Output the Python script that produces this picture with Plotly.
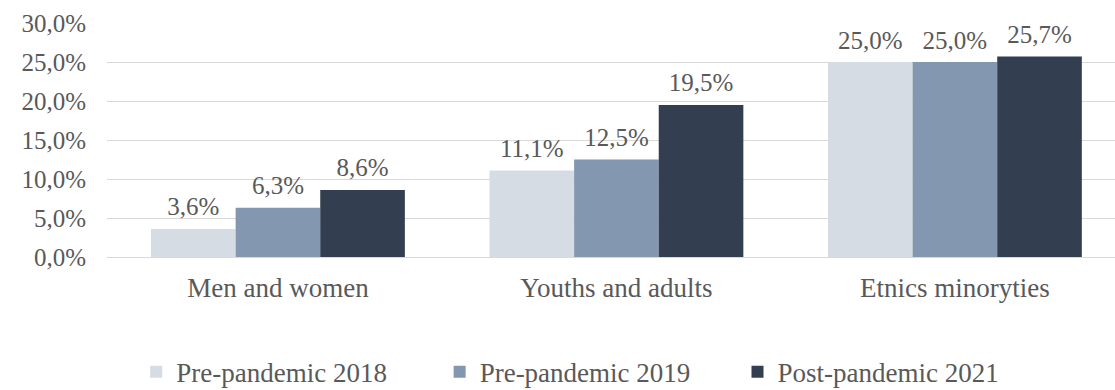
import plotly.graph_objects as go

categories = ["Men and women", "Youths and adults", "Etnics minoryties"]
series_names = ["Pre-pandemic 2018", "Pre-pandemic 2019", "Post-pandemic 2021"]
values_2018 = [3.6, 11.1, 25.0]
values_2019 = [6.3, 12.5, 25.0]
values_2021 = [8.6, 19.5, 25.7]
colors = ["#D6DCE4", "#8497B0", "#333F50"]
y_ticks = [0, 5, 10, 15, 20, 25, 30]
y_tick_labels = ["0,0%", "5,0%", "10,0%", "15,0%", "20,0%", "25,0%", "30,0%"]

FONT = "Liberation Serif, Times New Roman, serif"
TXT = "#595959"

def fmt(v):
    return f"{v:.1f}%".replace(".", ",")

fig = go.Figure()
legends = ["legend", "legend2", "legend3"]
all_vals = [values_2018, values_2019, values_2021]
for i, (name, vals, col, lg) in enumerate(zip(series_names, all_vals, colors, legends)):
    fig.add_trace(go.Bar(
        name=name, x=categories, y=vals,
        marker=dict(color=col, line=dict(width=0)),
        offsetgroup=str(i), legend=lg, hoverinfo="skip",
    ))
for i, vals in enumerate(all_vals):
    fig.add_trace(go.Scatter(
        x=categories, y=vals, mode="markers+text",
        marker=dict(size=10, opacity=0),
        text=[fmt(v) for v in vals], textposition="top center",
        textfont=dict(family=FONT, size=25, color=TXT),
        offsetgroup=str(i), showlegend=False, cliponaxis=False, hoverinfo="skip",
    ))

leg_common = dict(orientation="h", yanchor="middle", y=-0.492, xanchor="left",
                  font=dict(family=FONT, size=27, color=TXT),
                  bgcolor="rgba(0,0,0,0)", borderwidth=0)

fig.update_layout(
    width=1115, height=390,
    margin=dict(l=107, r=0, t=23, b=133, autoexpand=False),
    paper_bgcolor="white", plot_bgcolor="white",
    barmode="group", bargap=0.25, bargroupgap=0,
    scattermode="group", scattergap=0.25,
    showlegend=True,
    legend=dict(x=0.029, **leg_common),
    legend2=dict(x=0.330, **leg_common),
    legend3=dict(x=0.6255, **leg_common),
    xaxis=dict(range=[-0.505, 2.473], showgrid=False, showline=False, zeroline=False,
               tickfont=dict(family=FONT, size=27, color=TXT), ticks="",
               ticklabelstandoff=12),
    yaxis=dict(range=[0, 30], tickvals=y_ticks, ticktext=y_tick_labels,
               showgrid=True, gridcolor="#D9D9D9", gridwidth=1,
               zeroline=True, zerolinecolor="#D9D9D9", zerolinewidth=1,
               showline=False, ticks="",
               tickfont=dict(family=FONT, size=25, color=TXT),
               ticklabelstandoff=20),
)

fig.write_html("out.html")
